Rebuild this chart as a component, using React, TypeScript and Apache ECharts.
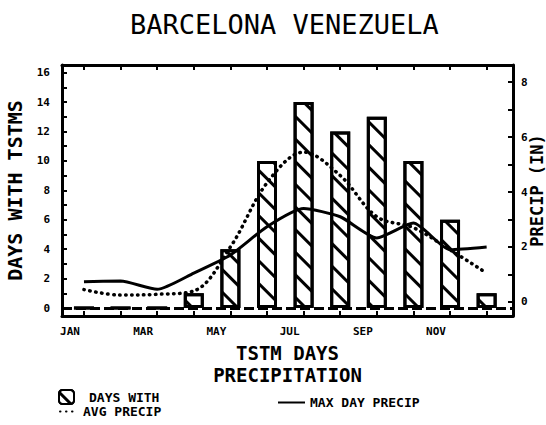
import React, { useEffect, useRef } from 'react';
import * as echarts from 'echarts';

const FONT = '"DejaVu Sans Mono", "Liberation Mono", monospace';

const months = ['JAN', 'FEB', 'MAR', 'APR', 'MAY', 'JUN', 'JUL', 'AUG', 'SEP', 'OCT', 'NOV', 'DEC'];
const monthLabelIdx = [0, 2, 4, 6, 8, 10];
const tstmDays = [0, 0, 0, 1, 4, 10, 14, 12, 13, 10, 6, 1];
const maxDayPrecip = [0.74, 0.76, 0.46, 1.05, 1.71, 2.74, 3.4, 3.1, 2.33, 2.87, 1.9, 2.0];
const avgPrecip = [0.45, 0.25, 0.28, 0.4, 2.0, 4.33, 5.45, 4.6, 3.1, 2.7, 1.9, 1.05];
const leftTicks = [0, 1, 2, 3, 4, 5, 6, 7, 8, 9, 10, 11, 12, 13, 14, 15, 16];
const leftLabels = [0, 2, 4, 6, 8, 10, 12, 14, 16];
const rightTicks = [0, 1, 2, 3, 4, 5, 6, 7, 8];
const rightLabels = [0, 2, 4, 6, 8];

const monthIdx = months.map((_, i) => i);

function buildOption(): any {
  const axisLine = { show: true, onZero: false, lineStyle: { color: '#000', width: 3 } };
  const labelStyle = { fontFamily: FONT, fontWeight: 'bold', fontSize: 11, color: '#000' };
  const legendText = { fontFamily: FONT, fontWeight: 'bold', fontSize: 13, color: '#000' };
  return {
    animation: false,
    backgroundColor: '#fff',
    title: {
      text: 'BARCELONA VENEZUELA',
      left: 125,
      top: 6,
      textStyle: { fontFamily: FONT, fontSize: 27, fontWeight: 'normal', color: '#000' },
    },
    grid: { left: 62, right: 33, top: 65, bottom: 109, containLabel: false, outerBoundsMode: 'none' },
    legend: [
      {
        data: ['DAYS WITH'],
        left: 53,
        top: 384,
        itemWidth: 15,
        itemHeight: 14,
        textStyle: { ...legendText, padding: [6, 0, 0, 10] },
      },
      {
        data: ['MAX DAY PRECIP'],
        left: 272,
        top: 391,
        itemWidth: 27,
        itemHeight: 12,
        itemStyle: { opacity: 0 },
        textStyle: legendText,
      },
      {
        data: ['AVG PRECIP'],
        left: 54,
        top: 400,
        itemWidth: 18,
        itemHeight: 12,
        itemStyle: { opacity: 0 },
        textStyle: legendText,
      },
    ],
    xAxis: [
      {
        type: 'value',
        position: 'bottom',
        min: -0.6,
        max: 11.72,
        splitLine: { show: false },
        axisLine,
        axisTick: { show: true, inside: true, length: 5, customValues: monthIdx, lineStyle: { width: 2, color: '#000' } },
        axisLabel: {
          ...labelStyle,
          customValues: monthLabelIdx,
          margin: 10,
          padding: [0, 28, 0, 0],
          formatter: (v: number) => months[Math.round(v)] ?? '',
        },
        name: 'TSTM DAYS\nPRECIPITATION',
        nameLocation: 'middle',
        nameGap: 20,
        nameTextStyle: { fontFamily: FONT, fontWeight: 'bold', fontSize: 19, lineHeight: 22, color: '#000' },
      },
      {
        type: 'value',
        position: 'top',
        min: -0.6,
        max: 11.72,
        splitLine: { show: false },
        axisLine,
        axisTick: { show: true, inside: true, length: 5, customValues: monthIdx, lineStyle: { width: 2, color: '#000' } },
        axisLabel: { show: false },
      },
    ],
    yAxis: [
      {
        type: 'value',
        position: 'left',
        min: -0.54,
        max: 16.52,
        splitLine: { show: false },
        axisLine,
        axisTick: { show: true, inside: true, length: 5, customValues: leftTicks, lineStyle: { width: 2, color: '#000' } },
        axisLabel: { ...labelStyle, customValues: leftLabels, margin: 12 },
        name: 'DAYS WITH TSTMS',
        nameLocation: 'middle',
        nameRotate: 90,
        nameGap: 37,
        nameTextStyle: { fontFamily: FONT, fontWeight: 'bold', fontSize: 20, color: '#000' },
      },
      {
        type: 'value',
        position: 'right',
        min: -0.51,
        max: 8.62,
        splitLine: { show: false },
        axisLine,
        axisTick: { show: true, inside: true, length: 5, customValues: rightTicks, lineStyle: { width: 2, color: '#000' } },
        axisLabel: { ...labelStyle, customValues: rightLabels, margin: 8 },
        name: 'PRECIP (IN)',
        nameLocation: 'middle',
        nameRotate: 90,
        nameGap: 15,
        nameMoveOverlap: false,
        nameTextStyle: { fontFamily: FONT, fontWeight: 'bold', fontSize: 17, color: '#000' },
      },
    ],
    series: [
      {
        name: 'DAYS WITH',
        type: 'bar',
        xAxisIndex: 0,
        yAxisIndex: 0,
        barWidth: 20,
        data: tstmDays.map((v, i) => [i, v]),
        itemStyle: {
          color: '#fff',
          borderColor: '#000',
          borderWidth: 3,
          decal: {
            symbol: 'rect',
            symbolSize: 1,
            dashArrayX: [1, 0],
            dashArrayY: [3, 13],
            rotation: Math.PI / 4,
            color: '#000',
          },
        },
        markLine: {
          silent: true,
          symbol: 'none',
          label: { show: false },
          lineStyle: { type: [10, 4], width: 3, color: '#000' },
          data: [{ yAxis: 0 }],
        },
      },
      {
        name: 'MAX DAY PRECIP',
        type: 'line',
        xAxisIndex: 0,
        yAxisIndex: 1,
        showSymbol: false,
        symbol: 'none',
        smooth: 0.2,
        data: maxDayPrecip.map((v, i) => [i, v]),
        lineStyle: { color: '#000', width: 3 },
        itemStyle: { color: '#000' },
        z: 5,
      },
      {
        name: 'AVG PRECIP',
        type: 'line',
        xAxisIndex: 0,
        yAxisIndex: 1,
        showSymbol: false,
        symbol: 'none',
        smooth: 0.35,
        data: avgPrecip.map((v, i) => [i, v]),
        lineStyle: { color: '#000', width: 3.5, type: [0.5, 5.5], cap: 'round' },
        itemStyle: { color: '#000' },
        z: 5,
      },
    ],
  };
}

export default function App() {
  const ref = useRef<HTMLDivElement>(null);
  useEffect(() => {
    if (!ref.current) return;
    const chart = echarts.init(ref.current, null, { renderer: 'svg' });
    chart.setOption(buildOption());
    return () => chart.dispose();
  }, []);
  return (
    <div
      ref={ref}
      style={{ position: 'absolute', left: 0, top: 0, width: 546, height: 425, background: '#fff' }}
    />
  );
}
